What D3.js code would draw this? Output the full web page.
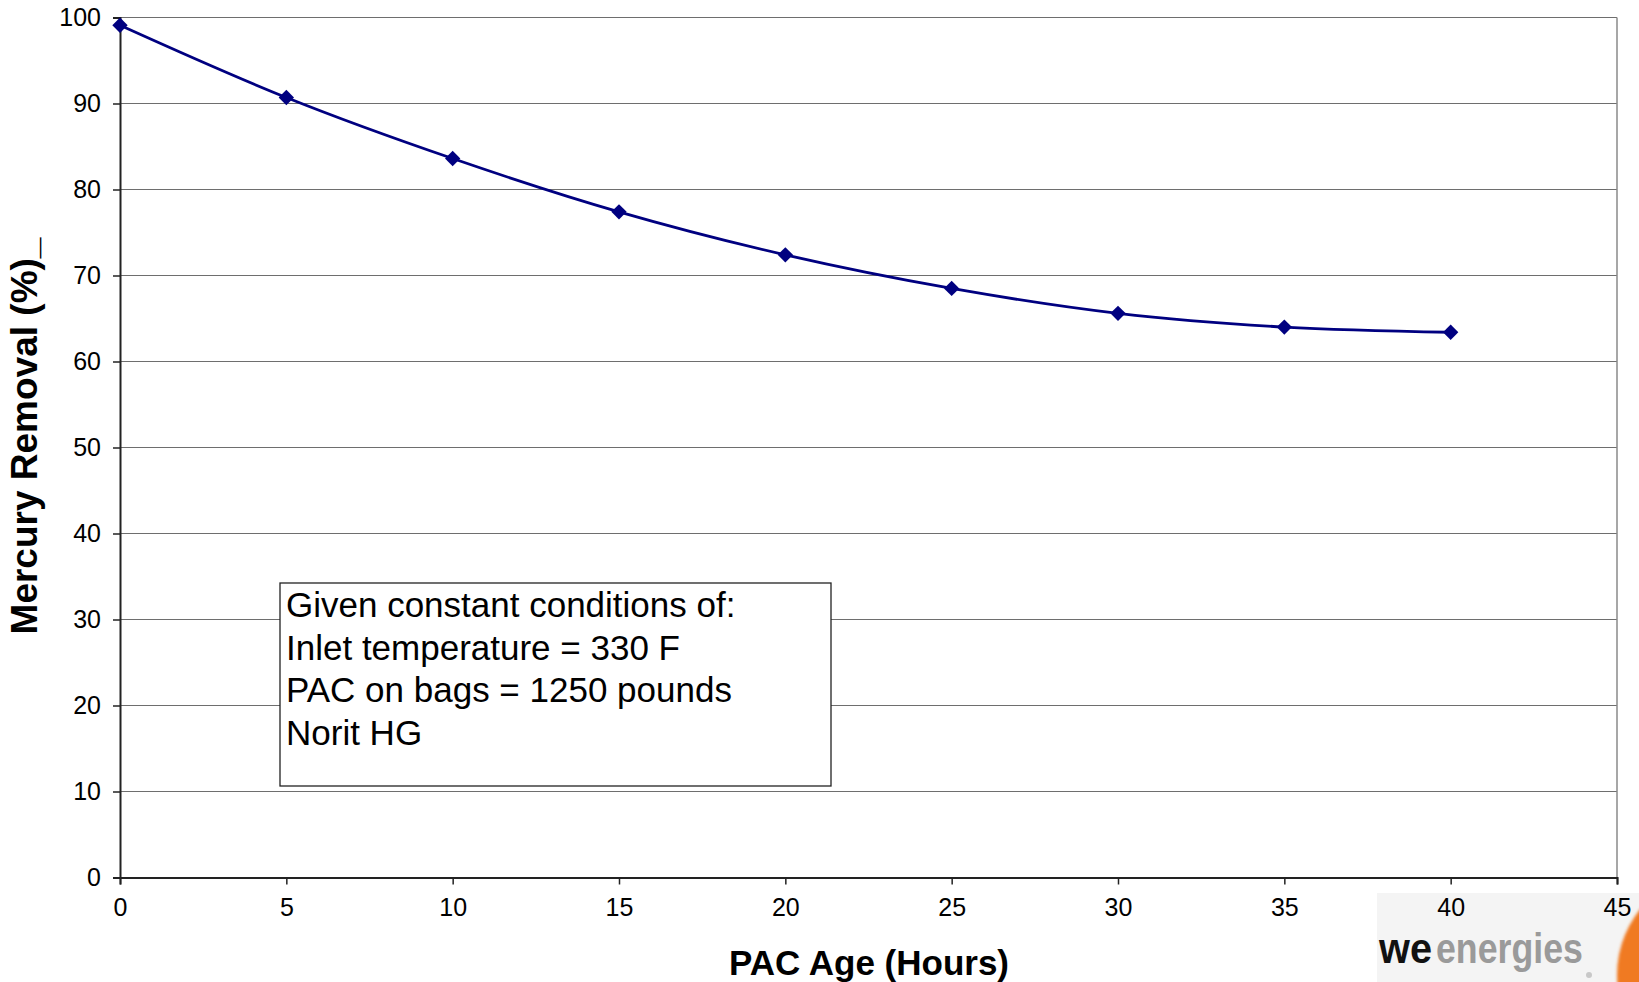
<!DOCTYPE html>
<html>
<head>
<meta charset="utf-8">
<script src="https://cdn.jsdelivr.net/npm/d3@7"></script>
<style>
  html, body { margin: 0; padding: 0; background: #fff; }
  svg { display: block; }
  text { font-family: "Liberation Sans", Arial, sans-serif; }
</style>
</head>
<body>
<svg id="chart" width="1639" height="982"></svg>
<script>
// PAC age (hours) and measured mercury removal (%)
const pacAgeHours = [0, 5, 10, 15, 20, 25, 30, 35, 40];
const mercuryRemoval = [99.1, 90.7, 83.6, 77.4, 72.4, 68.5, 65.6, 64.0, 63.4];
const xTicks = [0, 5, 10, 15, 20, 25, 30, 35, 40, 45];
const yTicks = [0, 10, 20, 30, 40, 50, 60, 70, 80, 90, 100];
const noteLines = [
  "Given constant conditions of:",
  "Inlet temperature = 330 F",
  "PAC on bags = 1250 pounds",
  "Norit HG"
];

const svg = d3.select("#chart");
const plot = { left: 120, top: 17.5, right: 1617, bottom: 877.5 };

const x = d3.scaleLinear().domain([0, 45]).range([plot.left, plot.right]);
const y = d3.scaleLinear().domain([0, 100]).range([plot.bottom, plot.top]);

// company logo, bottom right (drawn first so the axis sits above it)
const defs = svg.append("defs");
defs.append("filter").attr("id", "soft")
  .append("feGaussianBlur").attr("stdDeviation", 1.5);
const logo = svg.append("g");
logo.append("rect")
  .attr("x", 1377).attr("y", 893).attr("width", 262).attr("height", 89)
  .attr("fill", "#f4f4f4");
logo.append("circle")
  .attr("cx", 1722).attr("cy", 975).attr("r", 105)
  .attr("fill", "#f07a22").attr("filter", "url(#soft)");

// condensed wordmark: squeeze each word horizontally to its width
function wordmark(word, left, width, color) {
  const t = logo.append("text")
    .attr("font-size", 42).attr("font-weight", "bold")
    .attr("fill", color).text(word);
  const natural = t.node().getComputedTextLength();
  t.attr("transform", `translate(${left},963) scale(${width / natural},1)`);
}
wordmark("we", 1379, 53, "#111");
wordmark("energies", 1436, 147, "#9a9a9a");
logo.append("circle")
  .attr("cx", 1589).attr("cy", 975).attr("r", 3)
  .attr("fill", "#c8c8c8");

// horizontal gridlines
svg.append("g")
  .selectAll("line")
  .data(yTicks.filter(v => v > 0))
  .join("line")
  .attr("x1", plot.left).attr("x2", plot.right)
  .attr("y1", d => y(d)).attr("y2", d => y(d))
  .attr("stroke", "#6e6e6e").attr("stroke-width", 1.2);

// plot border on the right
svg.append("line")
  .attr("x1", plot.right).attr("x2", plot.right)
  .attr("y1", plot.top).attr("y2", plot.bottom)
  .attr("stroke", "#8a8a8a").attr("stroke-width", 1.5);

// note box
const box = { x: 280, y: 583, w: 551, h: 203 };
svg.append("rect")
  .attr("x", box.x).attr("y", box.y).attr("width", box.w).attr("height", box.h)
  .attr("fill", "#fff").attr("stroke", "#222").attr("stroke-width", 1.3);
svg.append("g")
  .selectAll("text")
  .data(noteLines)
  .join("text")
  .attr("x", box.x + 6)
  .attr("y", (d, i) => 617 + i * 42.7)
  .attr("font-size", 35)
  .attr("fill", "#000")
  .text(d => d);

// axes
const yAxis = d3.axisLeft(y).tickValues(yTicks).tickSize(7).tickPadding(12);
const xAxis = d3.axisBottom(x).tickValues(xTicks).tickSize(7).tickPadding(14);

const gy = svg.append("g").attr("transform", `translate(${plot.left},0)`).call(yAxis);
const gx = svg.append("g").attr("transform", `translate(0,${plot.bottom})`).call(xAxis);
[gx, gy].forEach(g => {
  g.select(".domain").attr("stroke", "#222").attr("stroke-width", 2);
  g.selectAll(".tick line").attr("stroke", "#222").attr("stroke-width", 1.5);
  g.selectAll(".tick text")
    .attr("font-family", "Liberation Sans, Arial, sans-serif")
    .attr("font-size", 25).attr("fill", "#000");
});

// series line (smoothed) and diamond markers
const line = d3.line()
  .x((d, i) => x(pacAgeHours[i]))
  .y(d => y(d))
  .curve(d3.curveCatmullRom.alpha(0.5));
svg.append("path")
  .datum(mercuryRemoval)
  .attr("d", line)
  .attr("fill", "none")
  .attr("stroke", "#000080")
  .attr("stroke-width", 2.8);

const diamond = d3.symbol().type(d3.symbolDiamond2).size(150);
svg.append("g")
  .selectAll("path")
  .data(mercuryRemoval)
  .join("path")
  .attr("transform", (d, i) => `translate(${x(pacAgeHours[i])},${y(d)})`)
  .attr("d", diamond)
  .attr("fill", "#000080");

// axis titles
svg.append("text")
  .attr("x", 869).attr("y", 975)
  .attr("text-anchor", "middle")
  .attr("font-size", 35).attr("font-weight", "bold")
  .text("PAC Age (Hours)");
svg.append("text")
  .attr("transform", "translate(37,436) rotate(-90)")
  .attr("text-anchor", "middle")
  .attr("font-size", 37).attr("font-weight", "bold")
  .text("Mercury Removal (%)_");
</script>
</body>
</html>
